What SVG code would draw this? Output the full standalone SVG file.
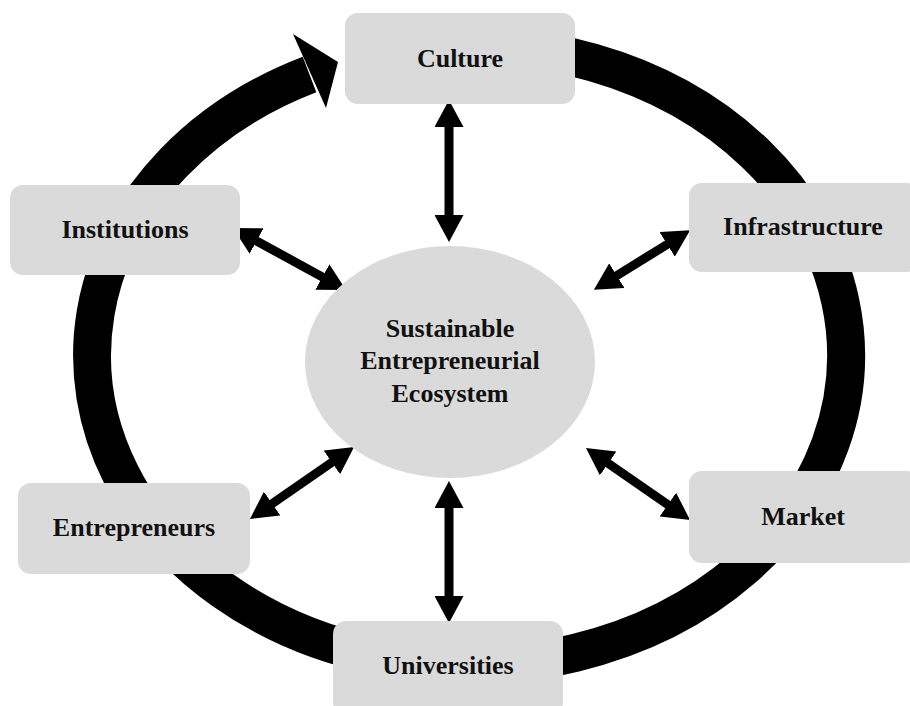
<svg xmlns="http://www.w3.org/2000/svg" width="910" height="706" viewBox="0 0 910 706">
  <style>
    .box { fill: #dadada; }
    .lbl { font-family: "Liberation Serif", "Times New Roman", serif; font-weight: bold; font-size: 26px; fill: #111; text-anchor: middle; }
    .ring { fill: none; stroke: #000; stroke-width: 38; }
    .dbl { stroke: #000; stroke-width: 9; fill: none; marker-start: url(#head); marker-end: url(#head); }
  </style>
  <defs>
    <marker id="head" viewBox="0 0 27 29" refX="7" refY="14.5" markerWidth="27" markerHeight="29" markerUnits="userSpaceOnUse" orient="auto-start-reverse">
      <path d="M0,0 L27,14.5 L0,29 Z" fill="#000"/>
    </marker>
  </defs>
  <rect width="910" height="706" fill="#fff"/>
  <g id="connectors">
    <path class="ring" d="M420,48 A377,310 0 1 1 309.5,74.5"/>
    <polygon points="293,34 338,62 326,108" fill="#000"/>
    <line class="dbl" x1="449" y1="120" x2="449" y2="222"/>
    <line class="dbl" x1="250.5" y1="237.6" x2="328.5" y2="280.4"/>
    <line class="dbl" x1="673.1" y1="240.7" x2="610.9" y2="279.3"/>
    <line class="dbl" x1="337.6" y1="458.4" x2="266.4" y2="507.6"/>
    <line class="dbl" x1="602.4" y1="459.4" x2="673.6" y2="508.6"/>
    <line class="dbl" x1="449" y1="501" x2="449" y2="603"/>
  </g>
  <g id="center">
    <ellipse class="box" cx="450" cy="362" rx="145" ry="116"/>
    <text class="lbl" x="450" y="337">Sustainable</text>
    <text class="lbl" x="450" y="369">Entrepreneurial</text>
    <text class="lbl" x="450" y="402">Ecosystem</text>
  </g>
  <g id="culture">
    <rect class="box" x="345" y="13" width="230" height="91" rx="13"/>
    <text class="lbl" x="460" y="67">Culture</text>
  </g>
  <g id="institutions">
    <rect class="box" x="10" y="185" width="230" height="90" rx="13"/>
    <text class="lbl" x="125" y="238">Institutions</text>
  </g>
  <g id="infrastructure">
    <rect class="box" x="689" y="183" width="230" height="89" rx="13"/>
    <text class="lbl" x="803" y="235">Infrastructure</text>
  </g>
  <g id="entrepreneurs">
    <rect class="box" x="18" y="483" width="232" height="91" rx="13"/>
    <text class="lbl" x="134" y="536">Entrepreneurs</text>
  </g>
  <g id="market">
    <rect class="box" x="689" y="471" width="230" height="92" rx="13"/>
    <text class="lbl" x="803" y="525">Market</text>
  </g>
  <g id="universities">
    <rect class="box" x="333" y="621" width="230" height="95" rx="13"/>
    <text class="lbl" x="448" y="674">Universities</text>
  </g>
</svg>
